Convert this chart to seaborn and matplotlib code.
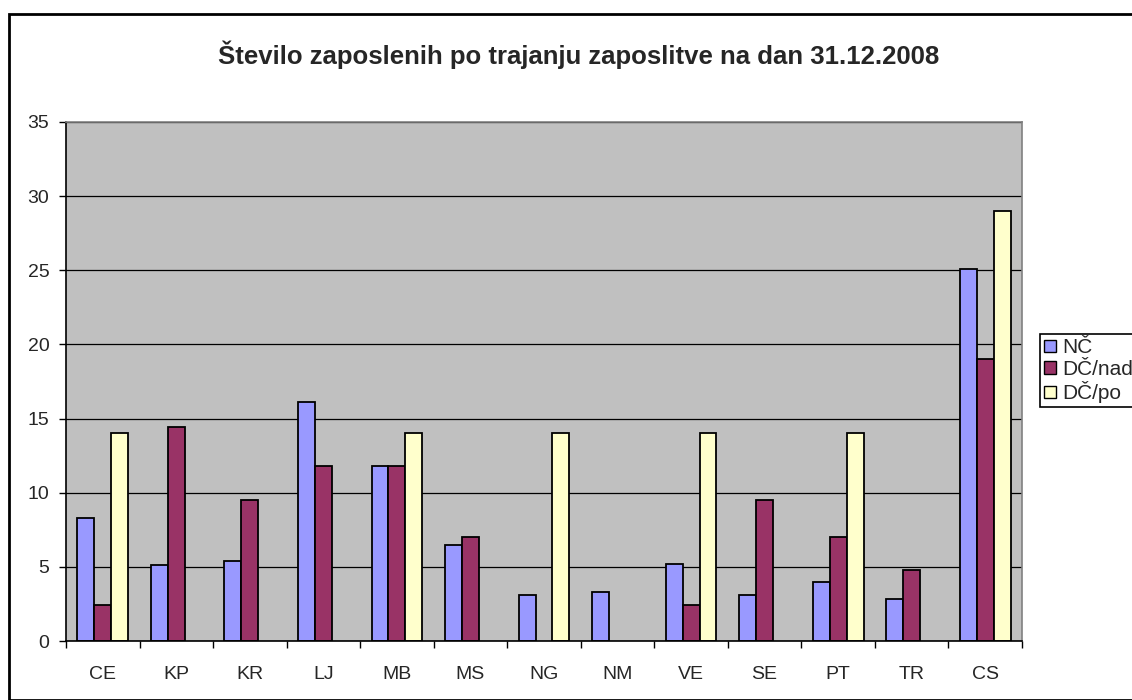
import numpy as np
import pandas as pd
import matplotlib
matplotlib.use("Agg")
import matplotlib.pyplot as plt
from matplotlib.patches import Rectangle, Patch
import seaborn as sns

categories = ["CE", "KP", "KR", "LJ", "MB", "MS", "NG", "NM", "VE", "SE", "PT", "TR", "CS"]
series_names = ["NČ", "DČ/nad", "DČ/po"]
nc = [8.3, 5.1, 5.4, 16.1, 11.8, 6.5, 3.1, 3.3, 5.2, 3.1, 4.0, 2.8, 25.1]
dc_nad = [2.4, 14.4, 9.5, 11.8, 11.8, 7.0, np.nan, np.nan, 2.4, 9.5, 7.0, 4.8, 19.0]
dc_po = [14.0, np.nan, np.nan, np.nan, 14.0, np.nan, 14.0, np.nan, 14.0, np.nan, 14.0, np.nan, 29.0]
y_ticks = [0, 5, 10, 15, 20, 25, 30, 35]
title = "Število zaposlenih po trajanju zaposlitve na dan 31.12.2008"
colors = ["#9999FF", "#993366", "#FFFFCC"]

df = pd.DataFrame({
    "cat": categories * 3,
    "series": [s for s in series_names for _ in categories],
    "value": nc + dc_nad + dc_po,
})

sns.set_theme(style="white")
plt.rcParams["font.family"] = ["Liberation Sans", "DejaVu Sans"]

fig = plt.figure(figsize=(11.32, 7.0), dpi=100)
ax = fig.add_axes([66 / 1132, 1 - 641 / 700, (1022 - 66) / 1132, (641 - 122) / 700])
ax.set_facecolor("#C0C0C0")

sns.barplot(data=df, x="cat", y="value", hue="series", order=categories,
            hue_order=series_names, palette=colors, width=0.69,
            edgecolor="black", linewidth=1.3, saturation=1, ax=ax, legend=False,
            errorbar=None)

ax.set_ylim(0, 35)
ax.set_xlim(-0.5, len(categories) - 0.5)
ax.set_yticks(y_ticks)
ax.set_yticklabels([str(t) for t in y_ticks], fontsize=14)
ax.yaxis.grid(True, color="black", linewidth=0.9)
ax.set_axisbelow(True)
ax.tick_params(axis="y", direction="out", length=5, width=1, color="black", pad=7, left=True)

# category boundary ticks (major) and centered labels (minor)
ax.set_xticks(np.arange(-0.5, len(categories), 1.0))
ax.set_xticklabels([])
ax.set_xticks(np.arange(len(categories)), minor=True)
ax.set_xticklabels(categories, minor=True, fontsize=14)
ax.tick_params(axis="x", which="major", direction="out", length=5, width=1, color="black", bottom=True)
ax.tick_params(axis="x", which="minor", length=0, pad=18)
ax.set_xlabel("")
ax.set_ylabel("")

for side in ["left", "bottom"]:
    ax.spines[side].set_color("black")
    ax.spines[side].set_linewidth(1.2)
for side in ["top", "right"]:
    ax.spines[side].set_color("#808080")
    ax.spines[side].set_linewidth(1.2)

fig.text(579 / 1132, 1 - 55 / 700, title, ha="center", va="center",
         fontsize=18.5, fontweight="bold")

handles = [Patch(facecolor=c, edgecolor="black", linewidth=1) for c in colors]
leg = fig.legend(handles, series_names, loc="upper left",
                 bbox_to_anchor=(1040 / 1132, 1 - 334 / 700), fontsize=15,
                 frameon=True, fancybox=False, edgecolor="black", framealpha=1,
                 handlelength=0.55, handleheight=0.55, handletextpad=0.3,
                 borderpad=0.2, labelspacing=0.12, borderaxespad=0)
leg.get_frame().set_linewidth(1.2)

fig.patches.append(Rectangle((9 / 1132, 0), 1.2, 1 - 14 / 700, transform=fig.transFigure,
                             fill=False, edgecolor="black", linewidth=2, clip_on=False))

fig.savefig("out.png", dpi=100)
